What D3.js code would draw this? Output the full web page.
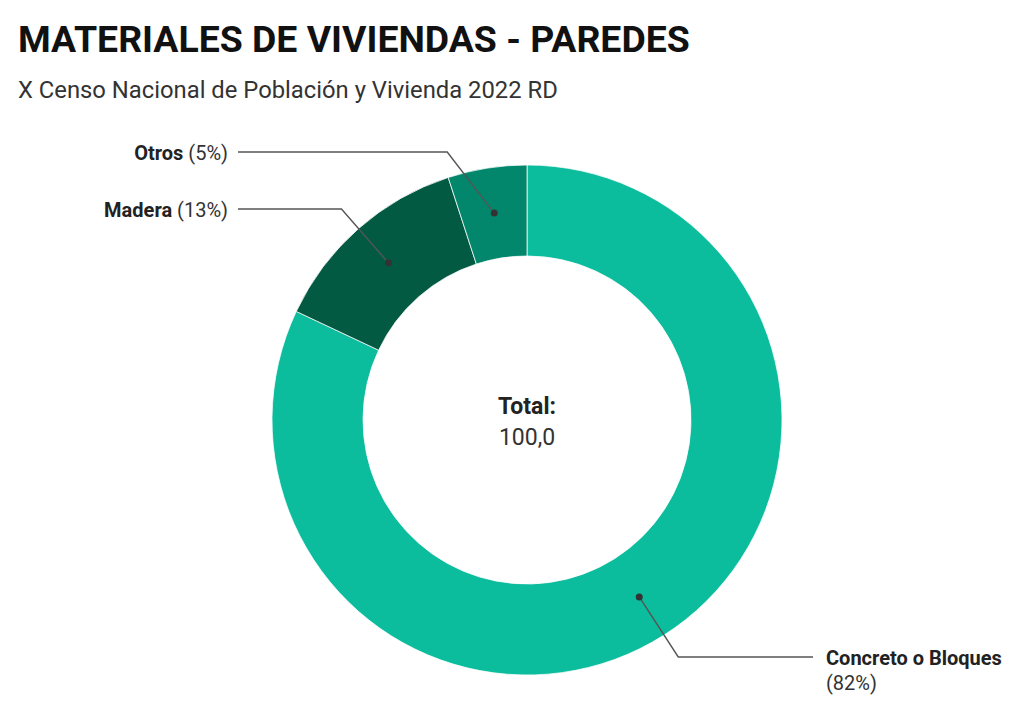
<!DOCTYPE html>
<html>
<head>
<meta charset="utf-8" />
<title>Materiales de viviendas - paredes</title>
<script src="https://cdn.jsdelivr.net/npm/d3@7"></script>
<style>
  body { margin: 0; background: #fff; }
  text { font-family: Roboto, "Noto Sans", sans-serif; }
</style>
</head>
<body>
<svg id="chart" width="1024" height="712"></svg>
<script>
// datos
const categorias = ["Concreto o Bloques", "Madera", "Otros"];
const valores = [82, 13, 5];
const colores = ["#0bbc9d", "#035a43", "#02876c"];
const total = "100,0";

const svg = d3.select("#chart");
const cx = 527, cy = 420;
const rOut = 255, rIn = 164;

// titulo
svg.append("text")
  .attr("x", 18).attr("y", 52)
  .style("font-size", "37.4px").style("font-weight", 700).style("fill", "#111")
  .text("MATERIALES DE VIVIENDAS - PAREDES");

svg.append("text")
  .attr("x", 18).attr("y", 98)
  .style("font-size", "23.8px").style("fill", "#333")
  .text("X Censo Nacional de Población y Vivienda 2022 RD");

const datos = categorias.map((c, i) => ({ cat: c, val: valores[i], color: colores[i] }));

const pie = d3.pie().value(d => d.val).sort(null);
const arc = d3.arc().innerRadius(rIn).outerRadius(rOut);
const arcMid = d3.arc().innerRadius((rIn + rOut) / 2).outerRadius((rIn + rOut) / 2);

const g = svg.append("g").attr("transform", `translate(${cx},${cy})`);
const arcs = pie(datos);

g.selectAll("path.slice")
  .data(arcs)
  .enter()
  .append("path")
  .attr("class", "slice")
  .attr("d", arc)
  .style("fill", d => d.data.color)
  .style("stroke", "rgba(255,255,255,0.75)")
  .style("stroke-width", 1);

// texto central
g.append("text")
  .attr("text-anchor", "middle").attr("y", -6)
  .style("font-size", "23px").style("font-weight", 700).style("fill", "#222")
  .text("Total:");
g.append("text")
  .attr("text-anchor", "middle").attr("y", 25)
  .style("font-size", "23px").style("fill", "#333")
  .text(total);

// etiquetas: altura de la linea horizontal relativa al centro
const labelDy = { "Otros": -268, "Madera": -211, "Concreto o Bloques": 237 };
const leftX = 238 - cx, rightX = 813 - cx;

arcs.forEach(d => {
  const [px, py] = arcMid.centroid(d);
  const ly = labelDy[d.data.cat];
  const derecha = px > 0;
  const ex = px + (derecha ? 39 : -47);
  const hx = derecha ? rightX : leftX;

  g.append("polyline")
    .attr("points", [[px, py], [ex, ly], [hx, ly]].map(p => p.join(",")).join(" "))
    .style("fill", "none").style("stroke", "#555").style("stroke-width", 1.4);
  g.append("circle")
    .attr("cx", px).attr("cy", py).attr("r", 3.5)
    .style("fill", "#333");

  const pct = `(${d.data.val}%)`;
  if (derecha) {
    const t = g.append("text").attr("x", hx + 13).attr("y", ly + 8)
      .style("font-size", "20px").style("fill", "#222");
    t.append("tspan").style("font-weight", 700).text(d.data.cat);
    g.append("text").attr("x", hx + 13).attr("y", ly + 33)
      .style("font-size", "20px").style("fill", "#333").text(pct);
  } else {
    const t = g.append("text").attr("x", hx - 10).attr("y", ly + 8)
      .attr("text-anchor", "end")
      .style("font-size", "20px").style("fill", "#222");
    t.append("tspan").style("font-weight", 700).text(d.data.cat);
    t.append("tspan").style("fill", "#333").text(" " + pct);
  }
});
</script>
</body>
</html>
